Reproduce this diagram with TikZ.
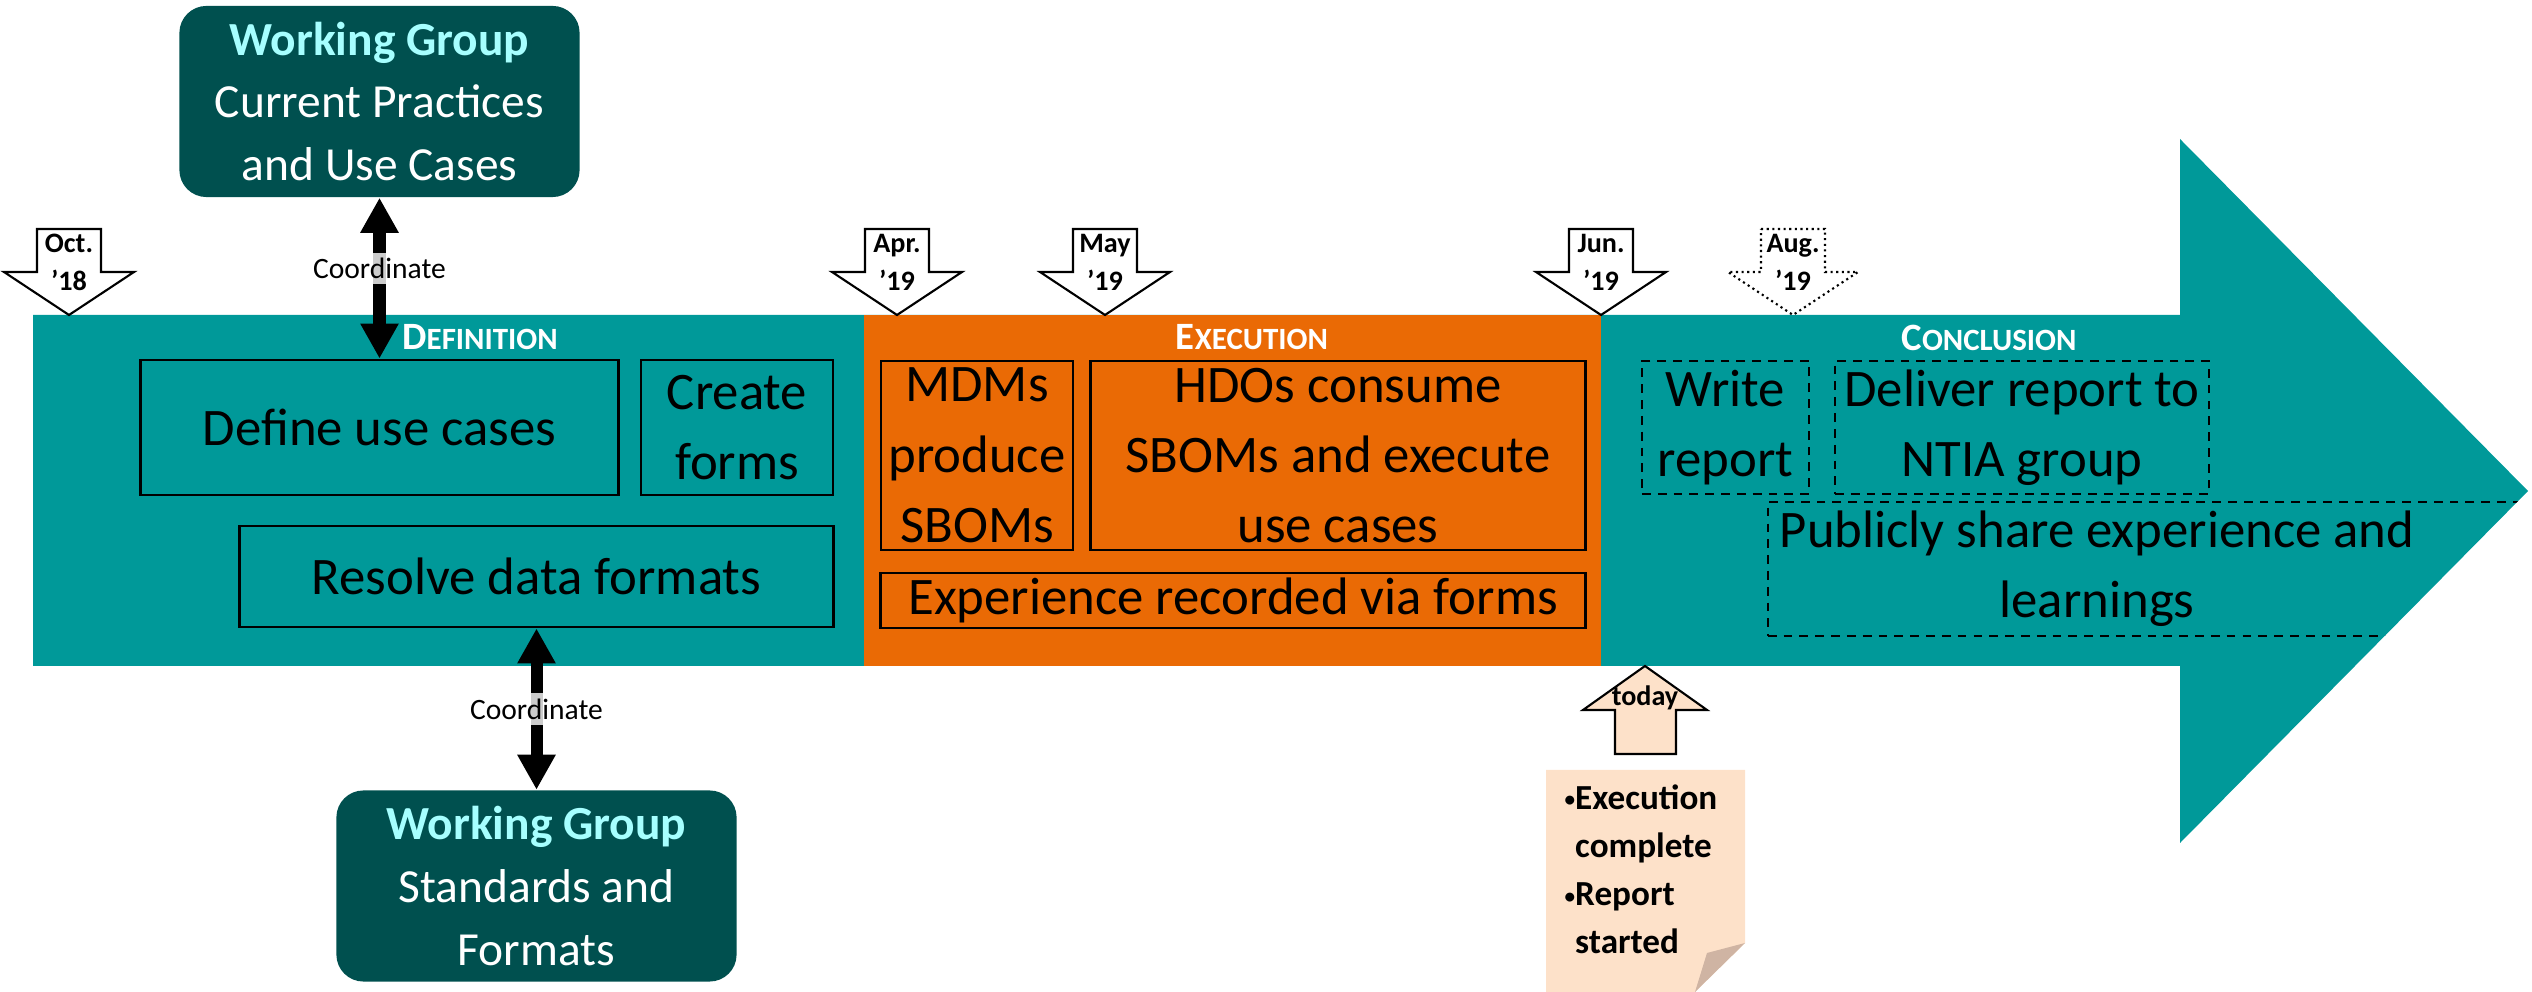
\documentclass[tikz,border=0pt]{standalone}
\usepackage{fontspec}
\setmainfont{Carlito}
\usepackage{tikz}
\usetikzlibrary{arrows.meta,positioning}
\definecolor{band}{HTML}{009999}
\definecolor{exec}{HTML}{EA6A05}
\definecolor{wg}{HTML}{00504F}
\definecolor{wgtitle}{HTML}{A6FFFF}
\definecolor{peach}{HTML}{FDE1C9}
\definecolor{fold}{HTML}{CFB4A3}
\newcommand{\phase}[2]{{\bfseries\fontsize{11}{13}\selectfont #1\fontsize{8.8}{10}\selectfont #2}}
\newcommand{\boxfont}{\fontsize{15}{20}\selectfont}
\newcommand{\bul}{{\fontsize{6}{6}\selectfont\raisebox{0.25ex}{•}}}

\begin{document}
\begin{tikzpicture}[x=0.01cm, y=-0.01cm,
  task/.style={draw,line width=0.8pt,inner sep=0pt,align=center,font=\boxfont},
  plan/.style={task,line width=0.6pt,dash pattern=on 2.5pt off 2pt},
  wgbox/.style={fill=wg,rounded corners=0.27cm,inner sep=0pt,align=center,text=white,
                minimum width=4cm,minimum height=1.91cm,font=\fontsize{13.5}{17.8}\selectfont},
  coord/.style={line width=0.12cm,
                {Triangle[length=0.35cm,width=0.36cm]}-{Triangle[length=0.35cm,width=0.36cm]}},
  clabel/.style={fill=white,fill opacity=0.8,text opacity=1,inner sep=1.5pt,
                 font=\fontsize{8.4}{10}\selectfont},
  datemark/.style={draw,line width=0.6pt,fill=white},
  dlabel/.style={align=center,inner sep=0pt,font=\fontsize{8}{10.8}\selectfont\bfseries},
  phasetitle/.style={text=white,inner sep=0pt}
]
\useasboundingbox (0,0) rectangle (2532,992);
\fill[band,save path=\timeline] (33,315) -- (2180,315) -- (2180,139) -- (2528,491)
  -- (2180,843) -- (2180,666) -- (33,666) -- cycle;
\fill[exec] (864,315) rectangle (1601,666);

\node[phasetitle] (defT) at (480,337) {\phase{D}{EFINITION}};
\node[phasetitle] (exeT) at (1252,337) {\phase{E}{XECUTION}};
\node[phasetitle] (conT) at (1989,338) {\phase{C}{ONCLUSION}};

\node[task,minimum width=4.77cm,minimum height=1.35cm] (define) at (379.5,427.5) {Define use cases};
\node[task,minimum width=1.92cm,minimum height=1.35cm] (forms) at (737,427.5) {Create\\forms};
\node[task,minimum width=5.93cm,minimum height=1.01cm] (resolve) at (536.5,576.5) {Resolve data formats};

\node[task,minimum width=1.92cm,minimum height=1.89cm] (mdm) at (977,455.5) {MDMs\\produce\\SBOMs};
\node[task,minimum width=4.94cm,minimum height=1.89cm] (hdo) at (1338,455.5)
  {HDOs consume\\SBOMs and execute\\use cases};
\node[task,minimum width=7.04cm,minimum height=0.55cm] (exp) at (1233,600.5)
  {Experience recorded via forms};

\node[plan,minimum width=1.67cm,minimum height=1.33cm] (write) at (1725.5,427.5) {Write\\report};
\node[plan,minimum width=3.74cm,minimum height=1.33cm] (deliver) at (2022,427.5)
  {Deliver report to\\NTIA group};
\begin{scope}
\clip[use path=\timeline];
\node[plan,minimum width=8cm,minimum height=1.34cm] (share) at (2168,569) {};
\end{scope}
\node[align=center,inner sep=0pt,font=\boxfont] (shareText) at (2097,569)
  {Publicly share experience and\\learnings};

\node[wgbox] (wgUse) at (379.5,101.5)
  {\textcolor{wgtitle}{\bfseries Working Group}\\Current Practices\\and Use Cases};
\node[wgbox] (wgStd) at (536.5,886)
  {\textcolor{wgtitle}{\bfseries Working Group}\\Standards and\\Formats};
\draw[coord] (wgUse.south) -- node[pos=0.44,clabel] {Coordinate} (define.north);
\draw[coord] (resolve.south) -- node[midway,clabel] {Coordinate} (wgStd.north);

\foreach \x/\mo/\yr/\ls [count=\i] in {69/Oct./’18/solid, 897/Apr./’19/solid,
    1105/May/’19/solid, 1601/Jun./’19/solid, 1793/Aug./’19/densely dotted}{
  \draw[datemark,\ls] ({\x-32},229) -- ({\x+32},229) -- ({\x+32},272) -- ({\x+65},272)
    -- (\x,315) -- ({\x-65},272) -- ({\x-32},272) -- cycle;
  \node[dlabel] (d\i) at (\x,262) {\mo\\\yr};
}

\draw[datemark,fill=peach] (1645,666) -- (1707,710) -- (1676,710) -- (1676,754)
  -- (1615,754) -- (1615,710) -- (1583,710) -- cycle;
\node[dlabel] (today) at (1645,698) {today};

\fill[peach] (1546,770) -- (1745,770) -- (1745,943) -- (1695,992) -- (1546,992) -- cycle;
\fill[fold] (1745,943) -- (1707,953) -- (1695,992) -- cycle;
\node[anchor=north west,align=left,inner sep=0pt,font=\fontsize{10}{13.7}\selectfont\bfseries]
  (note) at (1564,784) {\bul Execution\\\hphantom{\bul}complete\\\bul Report\\\hphantom{\bul}started};
\end{tikzpicture}
\end{document}
